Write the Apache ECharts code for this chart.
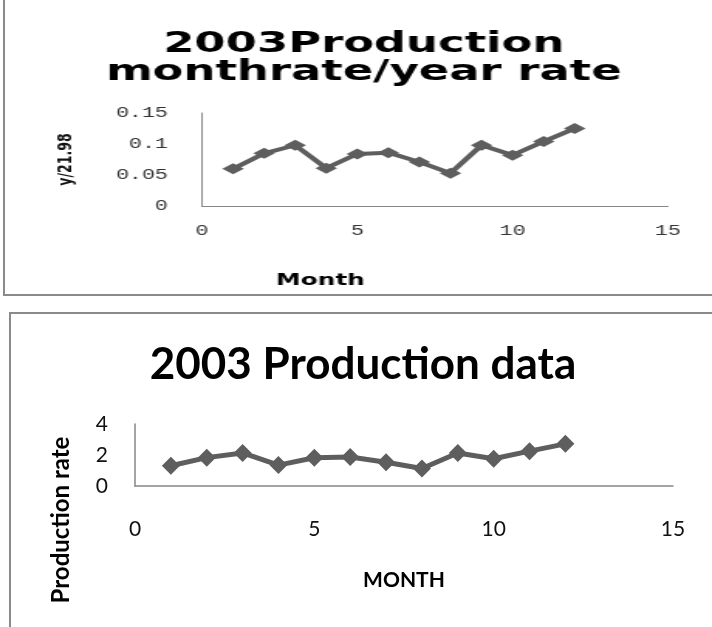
<!DOCTYPE html>
<html>
<head>
<meta charset="utf-8">
<script src="https://cdn.jsdelivr.net/npm/echarts@6/dist/echarts.min.js"></script>
<style>
  html, body { margin: 0; padding: 0; background: #ffffff; }
  body { width: 712px; height: 627px; position: relative; overflow: hidden; }
  #base { position: absolute; left: 0; top: 0; width: 712px; height: 627px; }
  /* upper chart is laid out narrow and widened horizontally */
  #upper { position: absolute; left: 0; top: 0; width: 460px; height: 300px;
           transform: scaleX(1.5478); transform-origin: 0 0; }
</style>
</head>
<body>
<div id="base"></div>
<div id="upper"></div>
<script>
// 2003 monthly production
const months = [1, 2, 3, 4, 5, 6, 7, 8, 9, 10, 11, 12];
const productionRate = [1.31, 1.83, 2.13, 1.35, 1.82, 1.87, 1.53, 1.13, 2.13, 1.76, 2.25, 2.72];
// month rate divided by the yearly total (21.98)
const rateOverYear = [0.060, 0.085, 0.098, 0.061, 0.084, 0.086, 0.071, 0.053, 0.098, 0.082, 0.104, 0.125];

const monthTicks = { min: 0, max: 15, interval: 5 };
const upperTicks = { min: 0, max: 0.15, interval: 0.05 };
const lowerTicks = { min: 0, max: 4, interval: 2 };

const lineGrey = '#5e5e5e';
const axisGrey = '#878787';
const frameGrey = '#8a8a8a';

function pairs(xs, ys) { return xs.map((x, i) => [x, ys[i]]); }

// ---- lower panel (full page, also carries both frames) ----
const base = echarts.init(document.getElementById('base'), null, { renderer: 'canvas' });
base.setOption({
  animation: false,
  title: {
    text: '2003 Production data',
    left: 358, top: 337, textAlign: 'center',
    textStyle: { fontFamily: 'Lato', fontWeight: 'bold', fontSize: 44, color: '#000', lineHeight: 46 }
  },
  grid: { left: 135, top: 424, width: 538, height: 62, containLabel: false },
  xAxis: {
    type: 'value', min: monthTicks.min, max: monthTicks.max, interval: monthTicks.interval,
    axisLine: { show: true, onZero: false, lineStyle: { color: axisGrey, width: 1.5 } },
    axisTick: { show: false }, splitLine: { show: false },
    axisLabel: { margin: 33, fontFamily: 'Lato', fontSize: 21, color: '#111' },
    name: 'MONTH', nameLocation: 'middle', nameGap: 84,
    nameTextStyle: { fontFamily: 'Lato', fontWeight: 'bold', fontSize: 21, color: '#000' }
  },
  yAxis: {
    type: 'value', min: lowerTicks.min, max: lowerTicks.max, interval: lowerTicks.interval,
    axisLine: { show: true, lineStyle: { color: axisGrey, width: 1.5 } },
    axisTick: { show: false }, splitLine: { show: false },
    axisLabel: { margin: 27, fontFamily: 'Lato', fontSize: 21, color: '#111' },
    name: 'Production rate', nameLocation: 'middle', nameGap: 62,
    nameTextStyle: { fontFamily: 'Lato', fontWeight: 'bold', fontSize: 24, color: '#000',
                     padding: [0, 130, 0, 0] }
  },
  series: [{
    type: 'line', data: pairs(months, productionRate),
    symbol: 'diamond', symbolSize: 18,
    lineStyle: { color: lineGrey, width: 5 },
    itemStyle: { color: lineGrey }
  }],
  graphic: [
    { type: 'polyline', shape: { points: [[4, 0], [4, 295], [712, 295]] },
      style: { stroke: frameGrey, lineWidth: 2, fill: null } },
    { type: 'polyline', shape: { points: [[10, 627], [10, 313], [712, 313]] },
      style: { stroke: frameGrey, lineWidth: 2, fill: null } }
  ]
});

// ---- upper panel (ratio to the yearly total) ----
const upper = echarts.init(document.getElementById('upper'), null, { renderer: 'canvas' });
upper.setOption({
  animation: false,
  title: {
    text: '2003Production\nmonthrate/year rate',
    left: 230, top: 25, textAlign: 'center',
    textStyle: { fontFamily: 'DejaVu Sans', fontWeight: 'bold', fontSize: 29, color: '#000', lineHeight: 28 }
  },
  grid: { left: 130.5, top: 113, width: 301, height: 93, containLabel: false },
  xAxis: {
    type: 'value', min: monthTicks.min, max: monthTicks.max, interval: monthTicks.interval,
    axisLine: { show: true, onZero: false, lineStyle: { color: axisGrey, width: 1.2 } },
    axisTick: { show: false }, splitLine: { show: false },
    axisLabel: { margin: 18, fontFamily: 'Liberation Mono', fontSize: 14, color: '#333' },
    name: 'Month', nameLocation: 'middle', nameGap: 67,
    nameTextStyle: { fontFamily: 'DejaVu Sans', fontWeight: 'bold', fontSize: 16, color: '#000',
                     padding: [0, 148, 0, 0] }
  },
  yAxis: {
    type: 'value', min: upperTicks.min, max: upperTicks.max, interval: upperTicks.interval,
    axisLine: { show: true, lineStyle: { color: axisGrey, width: 1 } },
    axisTick: { show: false }, splitLine: { show: false },
    axisLabel: { margin: 22, fontFamily: 'Liberation Mono', fontSize: 14, color: '#333' },
    name: 'y/21.98', nameLocation: 'middle', nameGap: 81,
    nameTextStyle: { fontFamily: 'DejaVu Sans', fontWeight: 'bold', fontSize: 12.5, color: '#111' }
  },
  series: [{
    type: 'line', data: pairs(months, rateOverYear),
    symbol: 'diamond', symbolSize: [14, 11],
    lineStyle: { color: lineGrey, width: 4 },
    itemStyle: { color: lineGrey }
  }]
});
</script>
</body>
</html>
